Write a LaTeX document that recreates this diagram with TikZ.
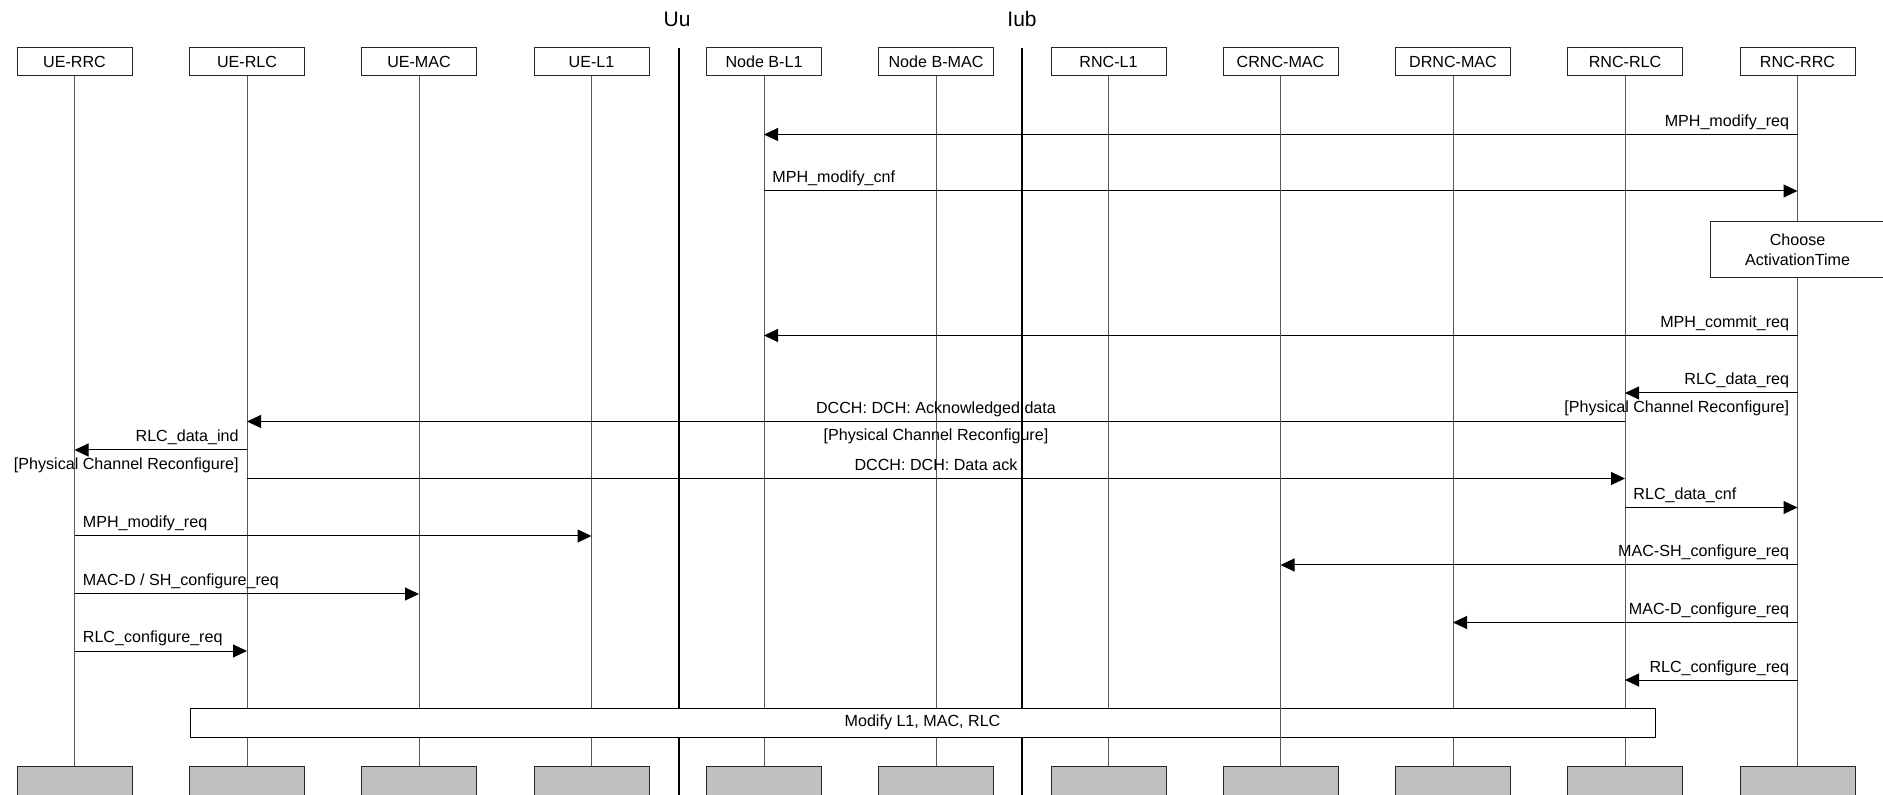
\documentclass[tikz,border=0pt]{standalone}
\usepackage{fontspec}
\setmainfont{Liberation Sans}
\usetikzlibrary{arrows.meta}
\definecolor{footgray}{HTML}{C0C0C0}
\begin{document}
\begin{tikzpicture}[x=0.5pt,y=-0.5pt,
  font=\fontsize{8.05}{10}\selectfont,
  head/.style={draw=black!85, line width=0.5pt, fill=white, minimum width=57.5pt, minimum height=14pt, inner sep=0pt},
  foot/.style={head, fill=footgray, minimum height=14.5pt},
  life/.style={draw=black!65, line width=0.5pt},
  border/.style={draw=black, line width=1pt},
  msg/.style={draw=black, line width=0.5pt, -{Triangle[length=7pt,width=6.5pt]}},
  lr/.style={anchor=base east, inner sep=0pt},
  ll/.style={anchor=base west, inner sep=0pt},
  lc/.style={anchor=base, inner sep=0pt},
  iface/.style={inner sep=0pt, font=\fontsize{10.5}{12}\selectfont},
  actbox/.style={draw=black!85, line width=0.5pt, fill=white, inner sep=0pt, align=center},
]
\useasboundingbox (0,0) rectangle (1883,795);

% head boxes
\node[head] (uerrc)   at (74.5,62)  {UE-RRC};
\node[head] (uerlc)   at (247,62)   {UE-RLC};
\node[head] (uemac)   at (419,62)   {UE-MAC};
\node[head] (uel1)    at (591.5,62) {UE-L1};
\node[head] (nbl1)    at (764,62)   {Node B-L1};
\node[head] (nbmac)   at (936,62)   {Node B-MAC};
\node[head] (rncl1)   at (1108.5,62){RNC-L1};
\node[head] (crncmac) at (1280.5,62){CRNC-MAC};
\node[head] (drncmac) at (1453,62)  {DRNC-MAC};
\node[head] (rncrlc)  at (1625,62)  {RNC-RLC};
\node[head] (rncrrc)  at (1797.5,62){RNC-RRC};

% foot boxes
\node[foot] (uerrcB)   at (74.5,780.5)  {};
\node[foot] (uerlcB)   at (247,780.5)   {};
\node[foot] (uemacB)   at (419,780.5)   {};
\node[foot] (uel1B)    at (591.5,780.5) {};
\node[foot] (nbl1B)    at (764,780.5)   {};
\node[foot] (nbmacB)   at (936,780.5)   {};
\node[foot] (rncl1B)   at (1108.5,780.5){};
\node[foot] (crncmacB) at (1280.5,780.5){};
\node[foot] (drncmacB) at (1453,780.5)  {};
\node[foot] (rncrlcB)  at (1625,780.5)  {};
\node[foot] (rncrrcB)  at (1797.5,780.5){};

% lifelines
\foreach \n in {uerrc,uerlc,uemac,uel1,nbl1,nbmac,rncl1,crncmac,drncmac,rncrlc,rncrrc}
  \draw[life] (\n) -- (\n B);

% interfaces
\node[iface] (uu)  at (677,19)  {Uu};
\node[iface] (iub) at (1022,19) {Iub};
\coordinate (uuT) at (678.5,48);
\coordinate (uuB) at (678.5,796);
\coordinate (iubT) at (1022,48);
\coordinate (iubB) at (1022,796);
\draw[border] (uuT) -- (uuB);
\draw[border] (iubT) -- (iubB);

% activation time box
\node[actbox, minimum width=87pt, minimum height=28pt] (act) at (1797.5,249.5) {Choose\\ActivationTime};

% messages
\draw[msg] (rncrrc |- 0,134.5) -- (nbl1 |- 0,134.5);
\node[lr] (m1) at (1789.5,126.5) {MPH\_modify\_req};

\draw[msg] (nbl1 |- 0,191) -- (rncrrc |- 0,191);
\node[ll] (m2) at (772,183) {MPH\_modify\_cnf};

\draw[msg] (rncrrc |- 0,335.5) -- (nbl1 |- 0,335.5);
\node[lr] (m3) at (1789.5,327.5) {MPH\_commit\_req};

\draw[msg] (rncrrc |- 0,393) -- (rncrlc |- 0,393);
\node[lr] (m4) at (1789.5,385) {RLC\_data\_req};
\node[lr] (m4b) at (1789.5,413) {[Physical Channel Reconfigure]};

\draw[msg] (rncrlc |- 0,421.5) -- (uerlc |- 0,421.5);
\node[lc] (m5) at (936,413.5) {DCCH: DCH: Acknowledged data};
\node[lc] (m5b) at (936,441) {[Physical Channel Reconfigure]};

\draw[msg] (uerlc |- 0,450) -- (uerrc |- 0,450);
\node[lr] (m6) at (239,442) {RLC\_data\_ind};
\node[lr] (m6b) at (239,470) {[Physical Channel Reconfigure]};

\draw[msg] (uerlc |- 0,478.5) -- (rncrlc |- 0,478.5);
\node[lc] (m7) at (936,470.5) {DCCH: DCH: Data ack};

\draw[msg] (rncrlc |- 0,507.5) -- (rncrrc |- 0,507.5);
\node[ll] (m8) at (1633,499.5) {RLC\_data\_cnf};

\draw[msg] (uerrc |- 0,536) -- (uel1 |- 0,536);
\node[ll] (m9) at (82.5,528) {MPH\_modify\_req};

\draw[msg] (rncrrc |- 0,565) -- (crncmac |- 0,565);
\node[lr] (m10) at (1789.5,557) {MAC-SH\_configure\_req};

\draw[msg] (uerrc |- 0,594) -- (uemac |- 0,594);
\node[ll] (m11) at (82.5,586) {MAC-D / SH\_configure\_req};

\draw[msg] (rncrrc |- 0,622.5) -- (drncmac |- 0,622.5);
\node[lr] (m12) at (1789.5,614.5) {MAC-D\_configure\_req};

\draw[msg] (uerrc |- 0,651) -- (uerlc |- 0,651);
\node[ll] (m13) at (82.5,643) {RLC\_configure\_req};

\draw[msg] (rncrrc |- 0,680) -- (rncrlc |- 0,680);
\node[lr] (m14) at (1789.5,672) {RLC\_configure\_req};

% modify box
\node[draw=black, line width=0.5pt, fill=white, minimum width=732.5pt, minimum height=14.25pt, inner sep=0pt] (mod) at (922.5,722.75) {Modify L1, MAC, RLC};
\draw[life] (crncmac) -- (crncmacB);
\end{tikzpicture}
\end{document}
